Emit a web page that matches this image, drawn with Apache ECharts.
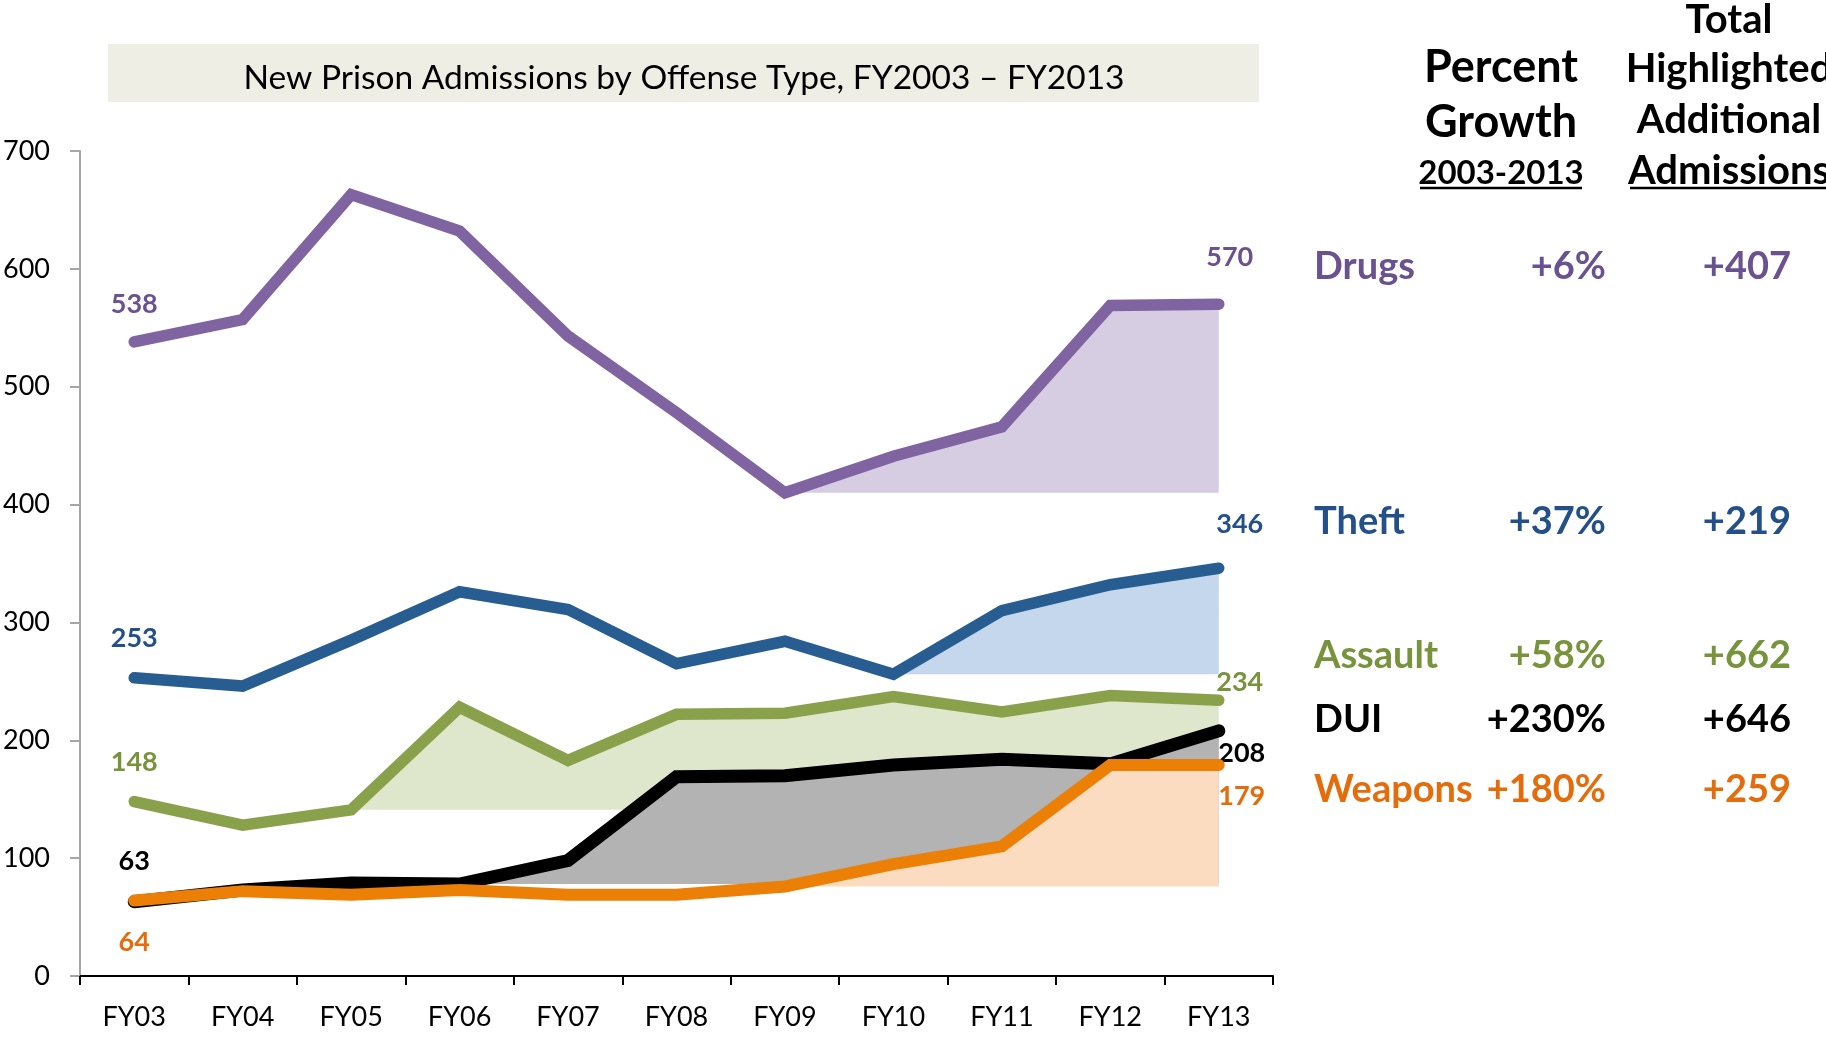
<!DOCTYPE html>
<html>
<head>
<meta charset="utf-8">
<script src="https://cdn.jsdelivr.net/npm/echarts@6/dist/echarts.min.js"></script>
<style>
  html, body { margin: 0; padding: 0; background: #fff; }
  #chart { width: 1826px; height: 1038px; }
</style>
</head>
<body>
<div id="chart"></div>
<script>
// Fiscal years on the x axis
const categories = ['FY03', 'FY04', 'FY05', 'FY06', 'FY07', 'FY08', 'FY09', 'FY10', 'FY11', 'FY12', 'FY13'];

// New admissions per offense type
const drugs   = [538, 557, 663, 632, 543, 478, 410, 441, 466, 569, 570];
const theft   = [253, 246, 285, 326, 311, 265, 284, 256, 310, 332, 346];
const assault = [148, 128, 141, 228, 183, 222, 223, 237, 224, 238, 234];
const dui     = [63, 73, 79, 78, 98, 169, 170, 179, 184, 180, 208];
const weapons = [64, 72, 69, 73, 69, 69, 76, 95, 110, 179, 179];

// Index of the year where each shaded growth area starts
const highlightStart = { drugs: 6, theft: 7, assault: 2, dui: 3, weapons: 6 };

// Y axis ticks
const yTicks = [0, 100, 200, 300, 400, 500, 600, 700];

// Summary table on the right
const tableNames  = ['Drugs', 'Theft', 'Assault', 'DUI', 'Weapons'];
const tableGrowth = ['+6%', '+37%', '+58%', '+230%', '+180%'];
const tableAdded  = ['+407', '+219', '+662', '+646', '+259'];

const FONT = 'Lato, "Open Sans", sans-serif';

const styles = {
  drugs:   { line: '#8064A2', fill: '#D6CDE2', text: '#6A5290' },
  theft:   { line: '#275D91', fill: '#C4D7EC', text: '#24508A' },
  assault: { line: '#8AA14B', fill: '#DEE7CC', text: '#77933C' },
  dui:     { line: '#000000', fill: '#B3B3B3', text: '#000000' },
  weapons: { line: '#EC7F05', fill: '#FBDCC0', text: '#E46C0A' }
};

// label placement for the first and last points of each line
const endLabels = {
  drugs:   { first: { position: 'top', distance: 24, offset: [0, 0] },   last: { position: 'top', distance: 33, offset: [11, 0] } },
  theft:   { first: { position: 'top', distance: 26, offset: [0, 0] },   last: { position: 'top', distance: 30, offset: [21, 0] } },
  assault: { first: { position: 'top', distance: 25, offset: [0, 0] },   last: { position: 'top', distance: 4, offset: [21, 0] } },
  dui:     { first: { position: 'top', distance: 26, offset: [0, 0] },   last: { position: 'bottom', distance: 8, offset: [23, 0] } },
  weapons: { first: { position: 'bottom', distance: 28, offset: [0, 0] }, last: { position: 'bottom', distance: 17, offset: [23, 0] } }
};

const seriesData = { drugs, theft, assault, dui, weapons };

function lineSeries(key, width, z) {
  const vals = seriesData[key];
  const st = styles[key];
  const data = vals.map((v, i) => {
    const item = { value: v };
    const lab = i === 0 ? endLabels[key].first : (i === vals.length - 1 ? endLabels[key].last : null);
    if (lab) {
      item.label = {
        show: true,
        position: lab.position,
        distance: lab.distance,
        offset: lab.offset,
        color: st.text,
        fontFamily: FONT,
        fontWeight: 'bold',
        fontSize: 27
      };
    }
    return item;
  });
  return {
    type: 'line',
    name: key,
    data,
    z,
    symbol: 'circle',
    symbolSize: 1,
    showSymbol: true,
    itemStyle: { color: 'rgba(0,0,0,0)' },
    lineStyle: { color: st.line, width: width, cap: 'round', join: 'miter' },
    label: { show: false },
    emphasis: { disabled: true },
    silent: true,
    animation: false
  };
}

function fillSeries(key, z) {
  const vals = seriesData[key];
  const start = highlightStart[key];
  const base = vals[start];
  return {
    type: 'line',
    name: key + '-fill',
    data: vals.map((v, i) => (i >= start ? v : null)),
    z,
    symbol: 'none',
    lineStyle: { width: 0, opacity: 0 },
    areaStyle: { color: styles[key].fill, opacity: 1, origin: base },
    emphasis: { disabled: true },
    silent: true,
    animation: false
  };
}

// Title banner and right-hand summary table as graphic elements
const graphics = [];
graphics.push({
  type: 'rect', left: 108, top: 44, z: 0,
  shape: { width: 1151, height: 58 },
  style: { fill: '#EEEEE5' }
});
graphics.push({
  type: 'text', x: 684, y: 78, z: 1,
  style: {
    text: 'New Prison Admissions by Offense Type, FY2003 \u2013 FY2013',
    fill: '#000', font: '33.5px ' + FONT, textAlign: 'center', textVerticalAlign: 'middle'
  }
});

const headFont = 'bold 40px ' + FONT;
const bigHead = 'bold 45px ' + FONT;
const headers = [
  { t: 'Total', x: 1729, y: 20, f: headFont },
  { t: 'Percent', x: 1501, y: 67, f: bigHead },
  { t: 'Highlighted', x: 1729, y: 69, f: headFont },
  { t: 'Growth', x: 1501, y: 122, f: bigHead },
  { t: 'Additional', x: 1729, y: 120, f: headFont },
  { t: '2003-2013', x: 1501, y: 173, f: 'bold 33px ' + FONT },
  { t: 'Admissions', x: 1729, y: 171, f: headFont }
];
headers.forEach(h => graphics.push({
  type: 'text', x: h.x, y: h.y,
  style: { text: h.t, fill: '#000', font: h.f, textAlign: 'center', textVerticalAlign: 'middle' }
}));
graphics.push({ type: 'line', shape: { x1: 1420, y1: 188, x2: 1582, y2: 188 }, style: { stroke: '#000', lineWidth: 2.5 } });
graphics.push({ type: 'line', shape: { x1: 1630, y1: 188, x2: 1830, y2: 188 }, style: { stroke: '#000', lineWidth: 2.5 } });

const rowKeys = ['drugs', 'theft', 'assault', 'dui', 'weapons'];
const rowY = [267, 522, 656, 720, 790];
const rowFont = 'bold 38px ' + FONT;
tableNames.forEach((name, i) => {
  const c = styles[rowKeys[i]].text;
  graphics.push({ type: 'text', x: 1314, y: rowY[i], style: { text: name, fill: c, font: rowFont, textAlign: 'left', textVerticalAlign: 'middle' } });
  graphics.push({ type: 'text', x: 1606, y: rowY[i], style: { text: tableGrowth[i], fill: c, font: rowFont, textAlign: 'right', textVerticalAlign: 'middle' } });
  graphics.push({ type: 'text', x: 1791, y: rowY[i], style: { text: tableAdded[i], fill: c, font: rowFont, textAlign: 'right', textVerticalAlign: 'middle' } });
});

const chart = echarts.init(document.getElementById('chart'), null, { renderer: 'canvas' });
chart.setOption({
  backgroundColor: '#ffffff',
  animation: false,
  grid: { left: 78, right: 553, top: 151, bottom: 62, containLabel: false },
  xAxis: {
    type: 'category',
    data: categories,
    boundaryGap: true,
    axisLine: { lineStyle: { color: '#000', width: 2 } },
    axisTick: { show: true, length: 9, lineStyle: { color: '#000', width: 2 } },
    axisLabel: { color: '#000', fontFamily: FONT, fontSize: 27, margin: 28 },
    splitLine: { show: false }
  },
  yAxis: {
    type: 'value',
    min: yTicks[0],
    max: yTicks[yTicks.length - 1],
    interval: yTicks[1] - yTicks[0],
    axisLine: { show: true, lineStyle: { color: '#A6A6A6', width: 2 } },
    axisTick: { show: true, length: 10, lineStyle: { color: '#A6A6A6', width: 2 } },
    axisLabel: { color: '#000', fontFamily: FONT, fontSize: 27, margin: 30 },
    splitLine: { show: false }
  },
  series: [
    fillSeries('assault', 1),
    fillSeries('dui', 2),
    fillSeries('weapons', 3),
    fillSeries('drugs', 4),
    fillSeries('theft', 5),
    lineSeries('drugs', 11.5, 10),
    lineSeries('theft', 11.5, 11),
    lineSeries('assault', 11.5, 12),
    lineSeries('dui', 13, 13),
    lineSeries('weapons', 12, 14)
  ],
  graphic: graphics
});
</script>
</body>
</html>
